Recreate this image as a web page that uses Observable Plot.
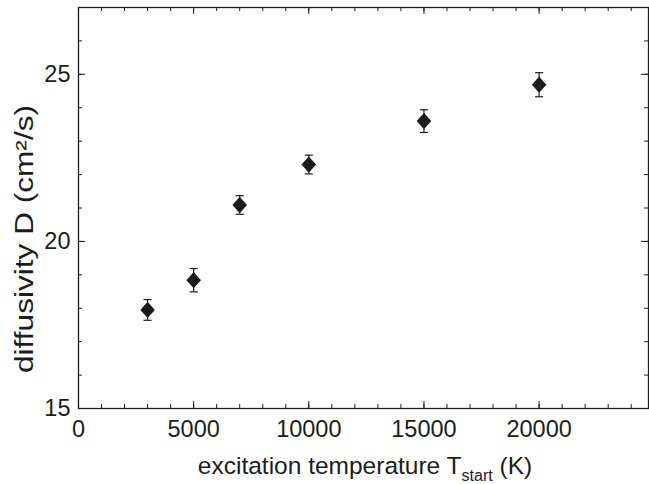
<!DOCTYPE html>
<html>
<head>
<meta charset="utf-8">
<script src="https://cdn.jsdelivr.net/npm/d3@7"></script>
<script src="https://cdn.jsdelivr.net/npm/@observablehq/plot@0.6"></script>
<style>
  html, body { margin: 0; padding: 0; background: #fff; }
  #chart svg { display: block; }
</style>
</head>
<body>
<div id="chart"></div>
<script>
// ---- data ----
const temperatures = [3000, 5000, 7000, 10000, 15000, 20000];
const diffusivity = [17.95, 18.84, 21.09, 22.30, 23.60, 24.69];
const errors = [0.31, 0.35, 0.28, 0.28, 0.34, 0.36];

const xMajorTicks = [0, 5000, 10000, 15000, 20000];
const xMinorTicks = [0, 1000, 2000, 3000, 4000, 5000, 6000, 7000, 8000, 9000, 10000, 11000, 12000,
  13000, 14000, 15000, 16000, 17000, 18000, 19000, 20000, 21000, 22000, 23000, 24000];
const yMajorTicks = [15, 20, 25];
const yMinorTicks = [15, 16, 17, 18, 19, 20, 21, 22, 23, 24, 25, 26, 27];

const xLabelMain = "excitation temperature T";
const xLabelSub = "start";
const xLabelTail = " (K)";
const yLabel = "diffusivity D (cm²/s)";

const data = temperatures.map((t, i) => ({
  x: t, y: diffusivity[i], lo: diffusivity[i] - errors[i], hi: diffusivity[i] + errors[i]
}));

const ink = "#1c1c1c";
const font = "'Liberation Sans', Arial, Helvetica, sans-serif";

const diamond = {
  draw(ctx, size) {
    const r = Math.sqrt(size / Math.PI);
    const h = r * 1.12;
    ctx.moveTo(0, -h); ctx.lineTo(r, 0); ctx.lineTo(0, h); ctx.lineTo(-r, 0); ctx.closePath();
  }
};
const cap = {
  draw(ctx, size) {
    const r = Math.sqrt(size / Math.PI);
    ctx.moveTo(-r, 0); ctx.lineTo(r, 0);
  }
};

const W = 649, H = 484;
const mL = 78, mR = 1, mT = 7, mB = 76;
const innerW = W - mL - mR, innerH = H - mT - mB;
const minorLen = 4, majorLen = 7;

const plot = Plot.plot({
  width: W,
  height: H,
  marginLeft: mL,
  marginRight: mR,
  marginTop: mT,
  marginBottom: mB,
  style: { fontFamily: font, color: ink, background: "#fff" },
  x: { domain: [0, 24750] },
  y: { domain: [15, 27] },
  marks: [
    // tick labels
    Plot.axisX(xMajorTicks, { anchor: "bottom", tickSize: 0, tickPadding: 12, fontSize: 23.5, label: null, fill: ink, tickFormat: d => String(d) }),
    Plot.axisY(yMajorTicks, { anchor: "left", tickSize: 0, tickPadding: 8, fontSize: 23.5, label: null, fill: ink, tickFormat: d => String(d) }),
    // inward ticks: bottom / top
    Plot.ruleX(xMinorTicks, { x: d => d, insetTop: innerH - minorLen, stroke: ink }),
    Plot.ruleX(xMajorTicks, { x: d => d, insetTop: innerH - majorLen, stroke: ink }),
    Plot.ruleX(xMinorTicks, { x: d => d, insetBottom: innerH - minorLen, stroke: ink }),
    Plot.ruleX(xMajorTicks, { x: d => d, insetBottom: innerH - majorLen, stroke: ink }),
    // inward ticks: left / right
    Plot.ruleY(yMinorTicks, { y: d => d, insetRight: innerW - minorLen, stroke: ink }),
    Plot.ruleY(yMajorTicks, { y: d => d, insetRight: innerW - majorLen, stroke: ink }),
    Plot.ruleY(yMinorTicks, { y: d => d, insetLeft: innerW - minorLen, stroke: ink }),
    Plot.ruleY(yMajorTicks, { y: d => d, insetLeft: innerW - majorLen, stroke: ink }),
    Plot.frame({ stroke: ink, strokeWidth: 1.3 }),
    // error bars
    Plot.ruleX(data, { x: "x", y1: "lo", y2: "hi", stroke: ink, strokeWidth: 1.2 }),
    Plot.dot(data, { x: "x", y: "lo", symbol: cap, r: 4, stroke: ink, strokeWidth: 1.2, fill: "none" }),
    Plot.dot(data, { x: "x", y: "hi", symbol: cap, r: 4, stroke: ink, strokeWidth: 1.2, fill: "none" }),
    // markers
    Plot.dot(data, { x: "x", y: "y", symbol: diamond, r: 7.3, fill: ink, stroke: "none" })
  ]
});

document.getElementById("chart").appendChild(plot);

// axis titles (x title needs a subscript)
const svg = d3.select(plot);
const xt = svg.append("text")
  .attr("x", 365)
  .attr("y", 474)
  .attr("text-anchor", "middle")
  .attr("font-family", font)
  .attr("font-size", 24.5)
  .attr("fill", ink);
xt.append("tspan").text(xLabelMain);
xt.append("tspan").attr("font-size", 16).attr("dy", 7).text(xLabelSub);
xt.append("tspan").attr("dy", -7).text(xLabelTail);

svg.append("text")
  .attr("transform", `translate(33, 239) rotate(-90)`)
  .attr("text-anchor", "middle")
  .attr("font-family", font)
  .attr("font-size", 25)
  .attr("textLength", 268)
  .attr("lengthAdjust", "spacingAndGlyphs")
  .attr("fill", ink)
  .text(yLabel);
</script>
</body>
</html>
